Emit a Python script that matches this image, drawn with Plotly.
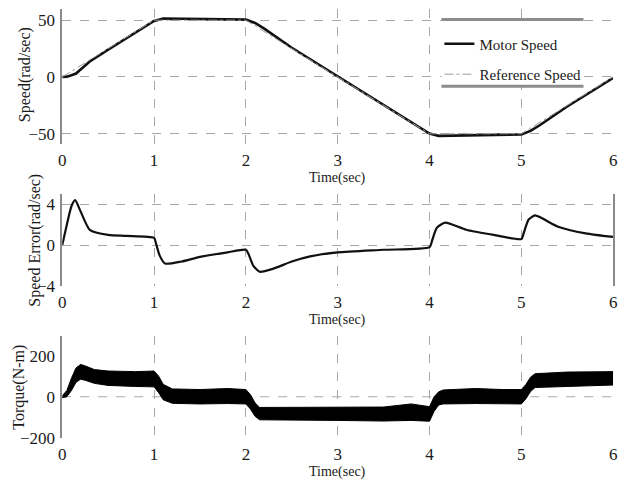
import plotly.graph_objects as go

W, H = 629, 492

# ---------------- data ----------------
t_ref = [0, 1, 2, 4, 5, 6]
ref_speed = [0, 50, 50, -50, -50, 0]

t_motor = [0, 0.05, 0.1, 0.15, 0.2, 0.3, 0.5, 1.0, 1.1, 1.3, 2.0, 2.1, 2.2, 2.5, 3.0,
           4.0, 4.1, 4.3, 5.0, 5.1, 5.2, 5.5, 6.0]
motor_speed = [0, 0.3, 1.5, 3.0, 6.5, 13.6, 24.0, 49.3, 51.5, 51.2, 50.5, 47.5, 42.5,
               25.7, 0.6, -49.8, -51.8, -51.5, -50.6, -47.5, -42.5, -26.0, -0.8]

t_err = [0, 0.05, 0.1, 0.14, 0.2, 0.3, 0.5, 0.7, 1.0, 1.02, 1.06, 1.12, 1.3, 1.5, 1.8, 2.0,
         2.03, 2.08, 2.15, 2.3, 2.5, 2.7, 3.0, 3.5, 4.0, 4.03, 4.08, 4.17, 4.4, 4.7, 5.0,
         5.03, 5.08, 5.15, 5.4, 5.7, 6.0]
speed_err = [0, 2.0, 3.8, 4.4, 3.3, 1.5, 1.0, 0.9, 0.7, 0.2, -1.0, -1.8, -1.6, -1.15, -0.7,
             -0.45, -0.9, -2.0, -2.6, -2.3, -1.6, -1.1, -0.7, -0.45, -0.2, 0.5, 1.7, 2.2,
             1.5, 1.0, 0.6, 1.3, 2.5, 2.9, 1.8, 1.15, 0.8]

t_tq = [0, 0.05, 0.1, 0.15, 0.2, 0.25, 0.35, 0.5, 0.8, 1.0, 1.05, 1.1, 1.2, 1.5, 1.8, 2.0,
        2.05, 2.1, 2.15, 2.5, 3.0, 3.5, 3.8, 4.0, 4.05, 4.1, 4.15, 4.5, 4.8, 5.0, 5.05,
        5.1, 5.15, 5.5, 6.0]
torque_upper = [5, 30, 90, 140, 157, 150, 132, 125, 122, 125, 100, 60, 38, 35, 40, 35,
                10, -30, -52, -52, -50, -50, -35, -48, 0, 24, 33, 40, 35, 35, 60, 95,
                112, 120, 122]
torque_lower = [-5, 0, 30, 70, 85, 80, 65, 55, 50, 48, 20, -15, -32, -35, -33, -35,
                -60, -95, -112, -112, -115, -118, -115, -119, -71, -40, -35, -33, -33,
                -35, -10, 25, 45, 50, 57]

x_ticks = [0, 1, 2, 3, 4, 5, 6]
speed_ticks = [-50, 0, 50]
err_ticks = [-4, 0, 4]
torque_ticks = [-200, 0, 200]

# ---------------- figure ----------------
FONT = "Liberation Serif"
GRID = "#a8a8a8"
AX = "#8a8a8a"
TXT = "#1a1a1a"

fig = go.Figure()

fig.add_trace(go.Scatter(x=t_motor, y=motor_speed, mode="lines", name="Motor Speed",
                         line=dict(color="#111", width=2.6), xaxis="x", yaxis="y",
                         legendgroup="a"))
fig.add_trace(go.Scatter(x=t_ref, y=ref_speed, mode="lines", name="Reference Speed",
                         line=dict(color="#9a9a9a", width=1, dash="dashdot"),
                         xaxis="x", yaxis="y", legendgroup="b"))

fig.add_trace(go.Scatter(x=t_err, y=speed_err, mode="lines", showlegend=False,
                         line=dict(color="#111", width=2.2, shape="spline", smoothing=0.6),
                         xaxis="x2", yaxis="y2"))

fig.add_trace(go.Scatter(x=t_tq, y=torque_lower, mode="lines", showlegend=False,
                         line=dict(color="#000", width=1), xaxis="x3", yaxis="y3"))
fig.add_trace(go.Scatter(x=t_tq, y=torque_upper, mode="lines", showlegend=False,
                         line=dict(color="#000", width=1), fill="tonexty",
                         fillcolor="#000", xaxis="x3", yaxis="y3"))

xdom = [59 / W, 617 / W]

def yd(top, bottom):
    return [1 - bottom / H, 1 - top / H]

xcommon = dict(range=[0, 6], tickvals=x_ticks, showgrid=True, gridcolor=GRID,
               griddash="dash", gridwidth=1, zeroline=False, showline=False,
               ticks="", ticklabelstandoff=4,
               tickfont=dict(family=FONT, size=17, color=TXT),
               domain=xdom, fixedrange=True)
ycommon = dict(showgrid=True, gridcolor=GRID, griddash="dash", gridwidth=1,
               zeroline=False, showline=True, linecolor=AX, linewidth=1.5,
               ticks="", ticklabelstandoff=2,
               tickfont=dict(family=FONT, size=17, color=TXT),
               fixedrange=True)

fig.update_layout(
    width=W, height=H, margin=dict(l=0, r=0, t=0, b=0),
    paper_bgcolor="white", plot_bgcolor="white",
    xaxis=dict(xcommon, anchor="y"),
    yaxis=dict(ycommon, range=[-59, 60], tickvals=speed_ticks, domain=yd(9, 147),
               anchor="x"),
    xaxis2=dict(xcommon, anchor="y2"),
    yaxis2=dict(ycommon, range=[-4, 5], tickvals=err_ticks, domain=yd(198, 292),
                anchor="x2", mirror=True),
    xaxis3=dict(xcommon, anchor="y3"),
    yaxis3=dict(ycommon, range=[-200, 295], tickvals=torque_ticks, domain=yd(343, 447),
                anchor="x3", showgrid=False),
    legend=dict(x=441 / W, y=1 - 28 / H, xanchor="left", yanchor="top",
                bgcolor="rgba(0,0,0,0)", borderwidth=0, tracegroupgap=8,
                font=dict(family=FONT, size=15, color=TXT), itemwidth=30),
    showlegend=True,
)

# zero line of torque panel (only horizontal grid seen there)
fig.add_shape(type="line", xref="x3 domain", yref="y3", x0=0, x1=1, y0=0, y1=0,
              line=dict(color=GRID, width=1, dash="dash"), layer="below")

# legend backdrop and top / bottom rules
fig.add_shape(type="rect", xref="paper", yref="paper", x0=443 / W, x1=587 / W,
              y0=1 - 88 / H, y1=1 - 20 / H, fillcolor="white", line=dict(width=0),
              layer="above")
for yy in (20, 88):
    fig.add_shape(type="line", xref="paper", yref="paper", x0=443 / W, x1=587 / W,
                  y0=1 - yy / H, y1=1 - yy / H, line=dict(color="#8c8c8c", width=3),
                  layer="above")

# axis titles
for ytxt in (182, 327, 482):
    fig.add_annotation(text="Time(sec)", xref="paper", yref="paper", x=338 / W,
                       y=1 - ytxt / H, xanchor="center", yanchor="middle",
                       showarrow=False, font=dict(family=FONT, size=14, color=TXT))

for txt, xx, yy in (("Speed(rad/sec)", 22, 76), ("Speed Error(rad/sec)", 31, 245),
                    ("Torque(N-m)", 15, 395)):
    fig.add_annotation(text=txt, xref="paper", yref="paper", x=xx / W, y=1 - yy / H,
                       xanchor="center", yanchor="middle", textangle=-90,
                       showarrow=False, font=dict(family=FONT, size=16, color=TXT))

fig.write_html("out.html")
